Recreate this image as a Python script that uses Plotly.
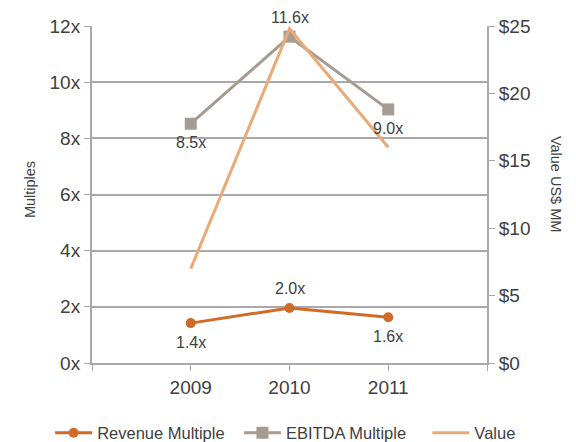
import plotly.graph_objects as go

# Multiples and deal value by year
years = [2009, 2010, 2011]
revenue_multiple = [1.42, 1.96, 1.63]
ebitda_multiple = [8.52, 11.62, 9.03]
value_mm = [7.0, 24.8, 16.0]

# label above (+1) or below (-1) each point
revenue_label_side = [-1, 1, -1]
ebitda_label_side = [-1, 1, -1]

grid_grey = "#a9a9ad"
text_grey = "#404040"
font_family = "Liberation Sans, Arial, sans-serif"

fig = go.Figure()

fig.add_trace(go.Scatter(
    x=years, y=revenue_multiple, name="Revenue Multiple", legend="legend",
    mode="lines+markers",
    line=dict(color="#d06b27", width=3),
    marker=dict(symbol="circle", size=10, color="#d06b27"),
))

fig.add_trace(go.Scatter(
    x=years, y=ebitda_multiple, name="EBITDA Multiple", legend="legend2",
    mode="lines+markers",
    line=dict(color="#a69b91", width=3),
    marker=dict(symbol="square", size=12, color="#a69b91"),
))

fig.add_trace(go.Scatter(
    x=years, y=value_mm, name="Value", yaxis="y2", legend="legend3",
    mode="lines",
    line=dict(color="#e8aa78", width=3),
))

# data labels a fixed distance above / below the markers
labels = []
for xs, ys, sides in [(years, revenue_multiple, revenue_label_side),
                      (years, ebitda_multiple, ebitda_label_side)]:
    for xv, yv, side in zip(xs, ys, sides):
        labels.append(dict(
            x=xv, y=yv, xref="x", yref="y", text=f"{yv:.1f}x",
            showarrow=False, xanchor="center", yanchor="middle",
            yshift=19 * side, font=dict(size=16, color=text_grey),
        ))

legend_style = dict(orientation="h", xanchor="left", y=-0.208, yanchor="middle",
                    font=dict(size=16.5, color=text_grey), itemwidth=37)

# the page body adds an 8px offset, so margins are shifted to compensate
fig.update_layout(
    width=576, height=442,
    margin=dict(l=84, r=97, t=18, b=87, autoexpand=False),
    paper_bgcolor="white", plot_bgcolor="white",
    font=dict(family=font_family, color=text_grey, size=19),
    showlegend=True,
    legend=dict(x=-0.106, **legend_style),
    legend2=dict(x=0.372, **legend_style),
    legend3=dict(x=0.849, **legend_style),
    xaxis=dict(
        range=[2008, 2012],
        tickvals=[2008, 2009, 2010, 2011, 2012],
        ticktext=["", "2009", "2010", "2011", ""],
        showgrid=False, zeroline=False,
        showline=True, linecolor=grid_grey, linewidth=2,
        ticks="outside", ticklen=6, tickcolor=grid_grey, tickwidth=1,
        tickfont=dict(size=19),
    ),
    yaxis=dict(
        range=[0, 12], dtick=2, ticksuffix="x",
        showgrid=True, gridcolor=grid_grey, gridwidth=2,
        zeroline=False,
        showline=True, linecolor=grid_grey, linewidth=2,
        ticks="outside", ticklen=6, tickcolor=grid_grey, tickwidth=1,
        tickfont=dict(size=19),
    ),
    yaxis2=dict(
        range=[0, 25], dtick=5, tickprefix="$",
        overlaying="y", side="right",
        showgrid=False, zeroline=False,
        showline=True, linecolor=grid_grey, linewidth=2,
        ticks="outside", ticklen=6, tickcolor=grid_grey, tickwidth=1,
        tickfont=dict(size=19),
    ),
    annotations=labels + [
        dict(text="Multiples", xref="paper", yref="paper", x=-0.157, y=0.516,
             xanchor="center", yanchor="middle", textangle=-90, showarrow=False,
             font=dict(size=14.5, color=text_grey)),
        dict(text="Value US$ MM", xref="paper", yref="paper", x=1.175, y=0.531,
             xanchor="center", yanchor="middle", textangle=90, showarrow=False,
             font=dict(size=14.5, color=text_grey)),
    ],
)

fig.write_html("out.html")
